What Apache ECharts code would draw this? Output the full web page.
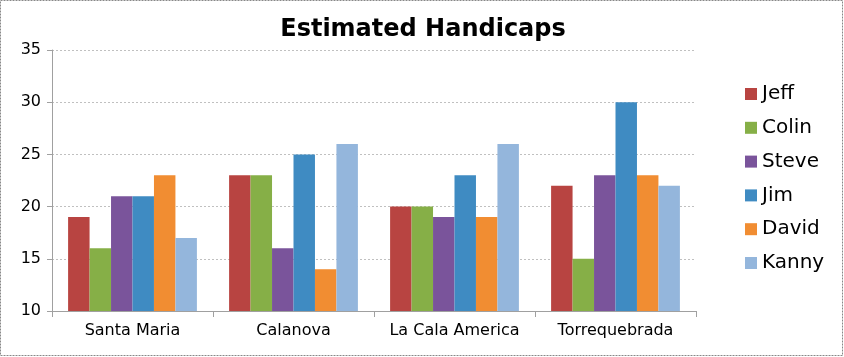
<!DOCTYPE html>
<html>
<head>
<meta charset="utf-8">
<script src="https://cdn.jsdelivr.net/npm/echarts@6/dist/echarts.min.js"></script>
<style>
html,body{margin:0;padding:0;background:#fff;}
#c{width:844px;height:357px;}
</style>
</head>
<body>
<div id="c"></div>
<script>
var categories = ['Santa Maria', 'Calanova', 'La Cala America', 'Torrequebrada'];
var seriesNames = ['Jeff', 'Colin', 'Steve', 'Jim', 'David', 'Kanny'];
var jeff  = [19, 23, 20, 22];
var colin = [16, 23, 20, 15];
var steve = [21, 16, 19, 23];
var jim   = [21, 25, 23, 30];
var david = [23, 14, 19, 23];
var kanny = [17, 26, 26, 22];
var yTicks = [10, 15, 20, 25, 30, 35];

var seriesData = [jeff, colin, steve, jim, david, kanny];
var colors = ['#B84441', '#86AF47', '#7A549B', '#3F8BC2', '#F18D32', '#94B6DC'];

var chart = echarts.init(document.getElementById('c'), null, {renderer: 'canvas'});
var font = 'DejaVu Sans';
chart.setOption({
  animation: false,
  color: colors,
  title: {
    text: 'Estimated Handicaps',
    left: 418, top: 13, textAlign: 'center',
    textStyle: {fontFamily: font, fontWeight: 'bold', fontSize: 24, color: '#000'}
  },
  legend: {
    orient: 'vertical',
    left: 740, top: 79,
    itemWidth: 12, itemHeight: 12, itemGap: 13.8,
    icon: 'rect',
    textStyle: {fontFamily: font, fontSize: 20, color: '#000'},
    data: seriesNames
  },
  graphic: [{
    type: 'rect',
    shape: {x: 0.5, y: 0.5, width: 842, height: 355},
    style: {fill: 'none', stroke: '#888', lineWidth: 1, lineDash: [2, 1]},
    silent: true
  }],
  grid: {left: 52, right: 148, top: 50, bottom: 46},
  xAxis: {
    type: 'category',
    data: categories,
    axisLine: {lineStyle: {color: '#a0a0a0'}},
    axisTick: {show: true, length: 6, lineStyle: {color: '#a0a0a0'}},
    axisLabel: {interval: 0, fontFamily: font, fontSize: 16, color: '#000', margin: 12}
  },
  yAxis: {
    type: 'value',
    min: yTicks[0], max: yTicks[yTicks.length - 1], interval: 5,
    axisLine: {show: true, lineStyle: {color: '#a0a0a0'}},
    axisTick: {show: true, length: 5, lineStyle: {color: '#a0a0a0'}},
    axisLabel: {fontFamily: font, fontSize: 16, color: '#000', margin: 11},
    splitLine: {show: true, lineStyle: {color: '#c0c0c0', type: [2, 2]}}
  },
  series: seriesNames.map(function (n, i) {
    return {
      name: n, type: 'bar', data: seriesData[i],
      barGap: '0%', barCategoryGap: '20%'
    };
  })
});
</script>
</body>
</html>
